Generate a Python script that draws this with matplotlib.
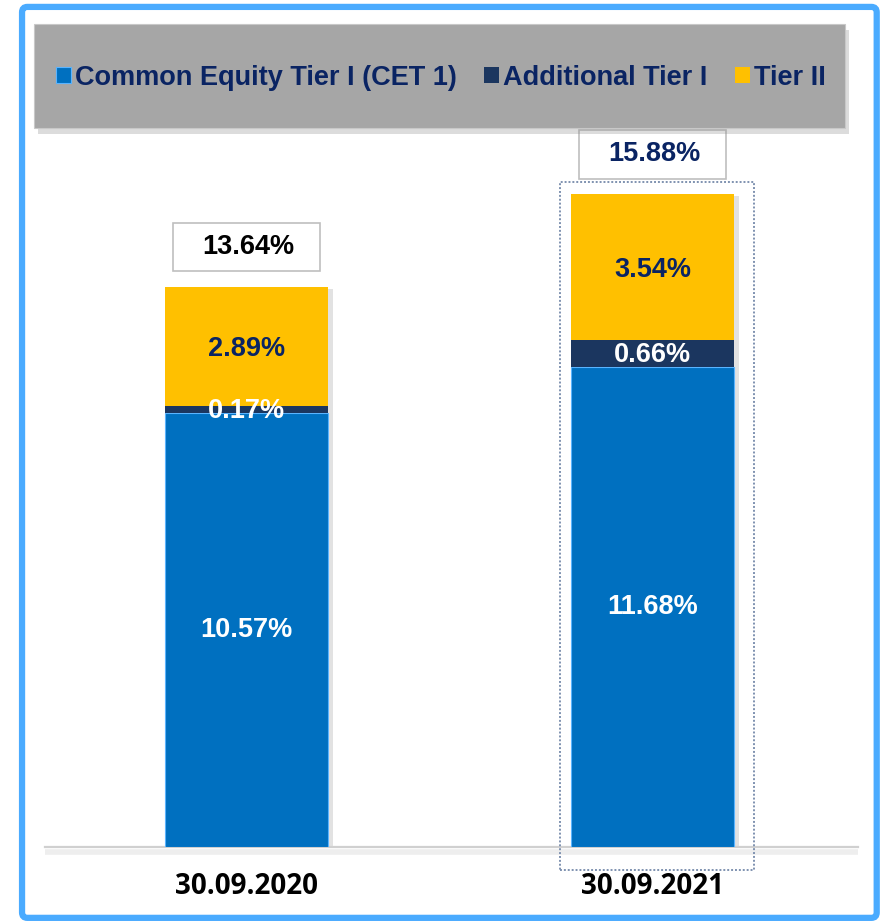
import matplotlib.pyplot as plt
from matplotlib.patches import Rectangle, FancyBboxPatch
import numpy as np

plt.rcParams['font.family'] = ['Liberation Sans', 'DejaVu Sans']

dates = ["30.09.2020", "30.09.2021"]
cet1 = [10.57, 11.68]
at1 = [0.17, 0.66]
tier2 = [2.89, 3.54]
totals = [13.64, 15.88]
series_names = ["Common Equity Tier I (CET 1)", "Additional Tier I", "Tier II"]

c_cet1 = "#0070C0"
c_at1 = "#1B365F"
c_tier2 = "#FFC000"
navy = "#0A2463"

fig = plt.figure(figsize=(8.82, 9.22), dpi=100)
fig.patch.set_facecolor("white")

# outer light blue frame
fig.add_artist(FancyBboxPatch((0.025, 0.0045), 0.969, 0.988,
                              boxstyle="round,pad=0,rounding_size=0.006",
                              transform=fig.transFigure, facecolor="none",
                              edgecolor="#4AABFF", lw=4.5))

# gray legend panel with shadow
fig.add_artist(Rectangle((0.043, 0.855), 0.9195, 0.1128, transform=fig.transFigure,
                         facecolor="#8c8c8c", alpha=0.3, edgecolor="none"))
fig.add_artist(Rectangle((0.0385, 0.8612), 0.9195, 0.1128, transform=fig.transFigure,
                         facecolor="#A6A6A6", edgecolor="#c8c8c8", lw=0.8))

ax = fig.add_axes([45 / 882, 75 / 922, 813 / 882, 717 / 922])
ax.set_xlim(-0.496, 1.506)
ax.set_ylim(0, 717 / 41.1)
ax.axis("off")

x = np.arange(len(dates))
w = 0.40

bottom2 = np.array(cet1) + np.array(at1)
tops = bottom2 + np.array(tier2)

# bar shadows
ax.bar(x + 0.012, tops, w, bottom=-0.05, color="#7f7f7f", alpha=0.22, zorder=1)

b1 = ax.bar(x, cet1, w, color=c_cet1, edgecolor="#5AB4FF", lw=0.8, zorder=3)
b2 = ax.bar(x, at1, w, bottom=cet1, color=c_at1, zorder=3)
b3 = ax.bar(x, tier2, w, bottom=bottom2, color=c_tier2, zorder=3)

# baseline with soft shadow
ax.plot([-0.496, 1.506], [-0.13, -0.13], color="#eeeeee", lw=4, zorder=1,
        solid_capstyle="butt", clip_on=False)
ax.plot([-0.496, 1.506], [0, 0], color="#d0d0d0", lw=1.6, zorder=2, clip_on=False)

fs = 19.5
for i in range(len(dates)):
    ax.text(x[i], cet1[i] / 2, f"{cet1[i]:.2f}%", ha="center", va="center",
            color="white", fontsize=fs, fontweight="bold", zorder=5)
    ax.text(x[i], cet1[i] + at1[i] / 2 - 0.05, f"{at1[i]:.2f}%", ha="center", va="center",
            color="white", fontsize=fs, fontweight="bold", zorder=5)
    ax.text(x[i], bottom2[i] + tier2[i] / 2 - 0.07, f"{tier2[i]:.2f}%", ha="center",
            va="center", color=navy, fontsize=fs, fontweight="bold", zorder=5)
    # total label box
    yc = tops[i] + 0.97
    ax.add_patch(Rectangle((x[i] - 0.182, yc - 0.585), 0.364, 1.17,
                           facecolor="white", edgecolor="#bfbfbf", lw=1.2,
                           zorder=4, clip_on=False))
    ax.text(x[i] + 0.005, yc, f"{totals[i]:.2f}%", ha="center", va="center",
            color="black" if i == 0 else navy, fontsize=fs, fontweight="bold",
            zorder=5, clip_on=False)
    ax.text(x[i], -0.97, dates[i], ha="center", va="center", color="black",
            fontsize=20, fontweight="bold", family=["Open Sans", "DejaVu Sans"],
            clip_on=False)

# dotted highlight around the latest bar
ax.add_patch(Rectangle((0.772, -0.56), 0.478, 16.74, facecolor="none",
                       edgecolor="#7F92B0", lw=1.4, ls=(0, (1, 1)),
                       zorder=2, clip_on=False))

leg = fig.legend([b1, b2, b3], series_names, ncol=3, loc="center",
                 bbox_to_anchor=(0.5, 0.9155), frameon=False,
                 handlelength=0.55, handleheight=0.55, handletextpad=0.15,
                 columnspacing=1.0, prop={"weight": "bold", "size": 19.5})
for t in leg.get_texts():
    t.set_color(navy)

fig.savefig("out.png", dpi=100)
